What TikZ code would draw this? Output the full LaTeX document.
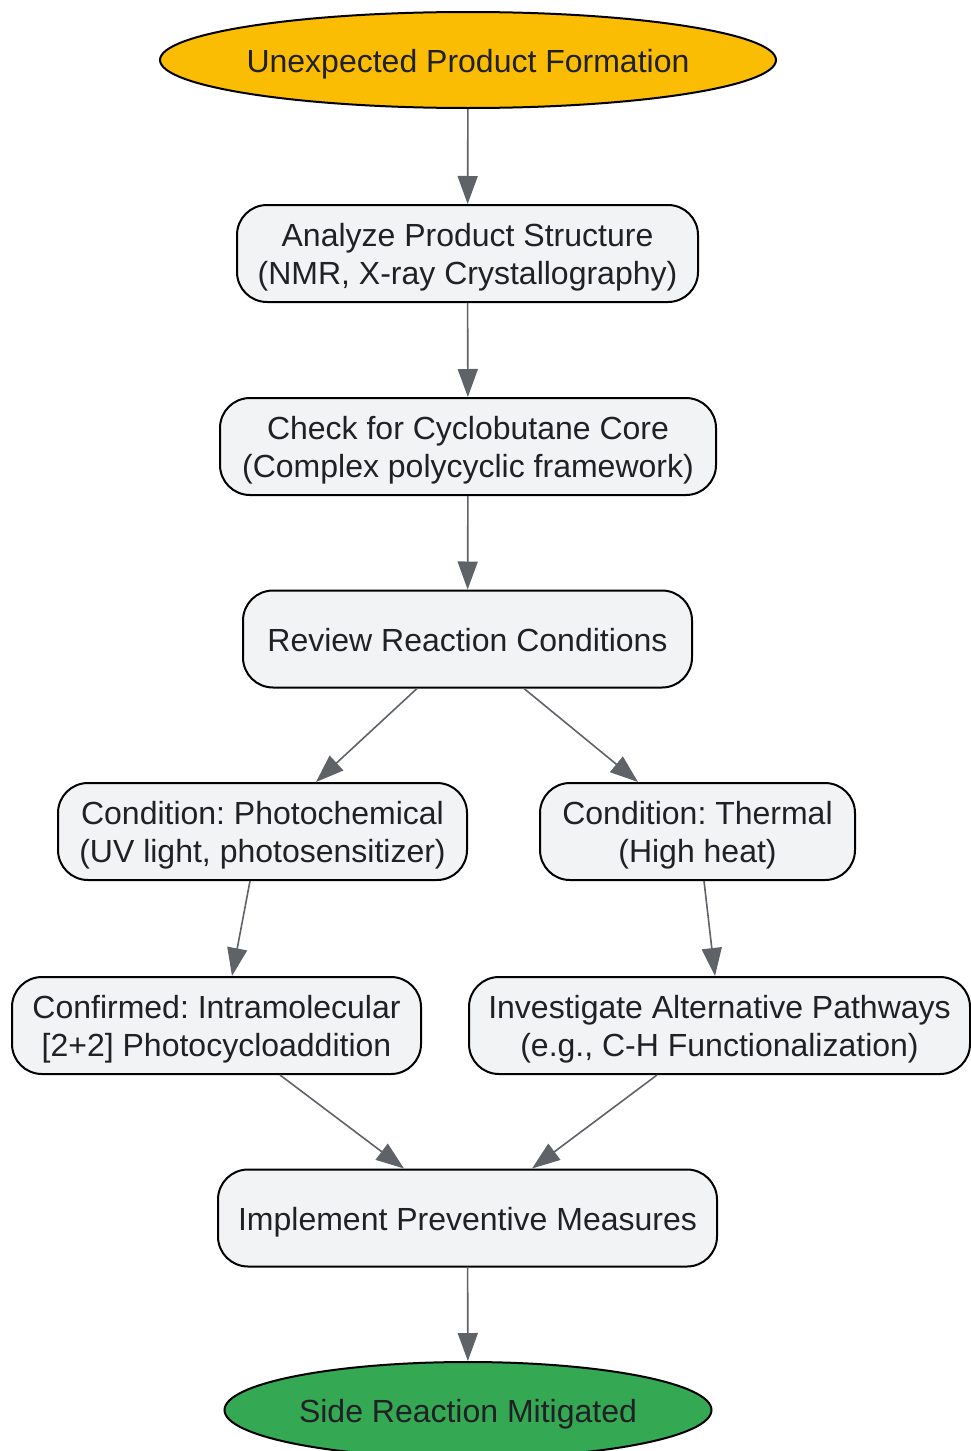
\documentclass[tikz,border=0pt]{standalone}
\usepackage{fontspec}
\setmainfont{Liberation Sans}
\usetikzlibrary{shapes.geometric,arrows.meta}
\frenchspacing
\definecolor{txt}{HTML}{202124}
\definecolor{boxfill}{HTML}{F1F3F4}
\definecolor{edgec}{HTML}{5F6368}
\definecolor{startc}{HTML}{FBBC04}
\definecolor{endc}{HTML}{34A853}
\newcommand\mystrut{\rule[-3.5pt]{0pt}{19pt}}
\tikzset{
  stepbox/.style={draw=black, line width=1pt, fill=boxfill, rounded corners=15pt,
    inner sep=0pt, minimum height=48.5pt, align=center, text=txt,
    font=\fontsize{16pt}{19pt}\selectfont\frenchspacing},
  termnode/.style={draw=black, line width=1pt, ellipse, inner xsep=-8pt, inner ysep=0pt,
    minimum height=48pt, text=txt, font=\fontsize{16pt}{19pt}\selectfont},
  conn/.style={draw=edgec, line width=0.8pt, -{Triangle[length=14pt,width=10pt]}, color=edgec}
}
\begin{document}
\begin{tikzpicture}[x=0.5pt,y=-0.5pt]
\useasboundingbox (0,0) rectangle (970,1451);
\node[termnode, fill=startc, minimum width=308pt] (start) at (468,60) {\mystrut Unexpected Product Formation};
\node[stepbox, minimum width=230.5pt] (analyze) at (467.5,253.5) {\mystrut Analyze Product Structure\\\mystrut (NMR, X-ray Crystallography)};
\node[stepbox, minimum width=248pt] (check) at (468,446.5) {\mystrut Check for Cyclobutane Core\\\mystrut (Complex polycyclic framework)};
\node[stepbox, minimum width=224.5pt] (review) at (467.5,639) {\mystrut Review Reaction Conditions};
\node[stepbox, minimum width=204.5pt] (photo) at (262.5,831.5) {\mystrut Condition: Photochemical\\\mystrut (UV light, photosensitizer)};
\node[stepbox, minimum width=157.5pt] (thermal) at (697.5,831.5) {\mystrut Condition: Thermal\\\mystrut (High heat)};
\node[stepbox, minimum width=204.5pt] (confirmed) at (216.5,1025.5) {\mystrut Confirmed: Intramolecular\\\mystrut [2+2] Photocycloaddition};
\node[stepbox, minimum width=250.5pt] (invest) at (719.5,1025.5) {\mystrut Investigate Alternative Pathways\\\mystrut (e.g., C-H Functionalization)};
\node[stepbox, minimum width=249.5pt] (implement) at (467.5,1218) {\mystrut Implement Preventive Measures};
\node[termnode, fill=endc, minimum width=243.5pt] (side) at (468,1410) {\mystrut Side Reaction Mitigated};

\draw[conn] (start) -- (analyze);
\draw[conn] (analyze) -- (check);
\draw[conn] (check) -- (review);
\draw[conn] ([xshift=-25.25pt]review.south) -- ([xshift=26.75pt]photo.north);
\draw[conn] ([xshift=28.25pt]review.south) -- ([xshift=-29.75pt]thermal.north);
\draw[conn] ([xshift=-6.25pt]photo.south) -- ([xshift=7.75pt]confirmed.north);
\draw[conn] ([xshift=3.25pt]thermal.south) -- ([xshift=-2.25pt]invest.north);
\draw[conn] ([xshift=31.75pt]confirmed.south) -- ([xshift=-31.75pt]implement.north);
\draw[conn] ([xshift=-31.25pt]invest.south) -- ([xshift=32.25pt]implement.north);
\draw[conn] (implement) -- (side);
\end{tikzpicture}
\end{document}
